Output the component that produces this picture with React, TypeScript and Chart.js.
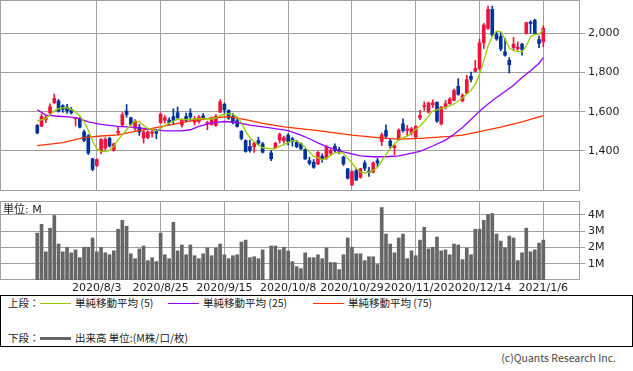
import React, { useEffect, useRef } from 'react';
import { Chart, registerables } from 'chart.js';

Chart.register(...registerables);

// ---------- data ----------
const dateLabels = ['2020/8/3', '2020/8/25', '2020/9/15', '2020/10/8', '2020/10/29', '2020/11/20', '2020/12/14', '2021/1/6'];
const dateIdx = [14, 29, 44, 59, 74, 89, 104, 119];

const opens = [
  1530, 1526, 1559, 1594, 1646, 1655, 1631, 1622, 1612, 1566,
  1567, 1497, 1477, 1359, 1325, 1402, 1414, 1464, 1403, 1492,
  1533, 1604, 1569, 1515, 1521, 1465, 1468, 1490, 1500, 1545,
  1556, 1557, 1575, 1595, 1532, 1576, 1593, 1547, 1550, 1580,
  1538, 1533, 1530, 1598, 1638, 1607, 1576, 1554, 1500, 1453,
  1422, 1421, 1453, 1436, null, 1390, 1415, 1455, 1452, 1480,
  1462, 1444, 1436, 1407, 1350, 1342, 1333, 1373, 1362, 1388,
  1424, 1407, 1368, 1308, 1226, 1299, 1265, 1338, 1297, 1291,
  1350, 1448, 1504, 1451, 1416, 1458, 1538, 1504, 1491, 1470,
  1569, 1627, 1598, 1636, 1648, 1538, 1627, 1641, 1658, 1730,
  1655, 1696, 1781, 1807, 1821, 1952, 2026, 2123, 1995, 1985,
  1906, 1863, 1928, 1921, 1945, 2000, 2058, 2068, 1969, 1957,
];
const highs = [
  1535, 1588, 1580, 1640, 1691, 1663, 1636, 1638, 1622, 1572,
  1570, 1506, 1483, 1363, 1360, 1463, 1468, 1470, 1440, 1520,
  1596, 1637, 1573, 1560, 1535, 1504, 1503, 1513, 1510, 1594,
  1581, 1569, 1615, 1624, 1564, 1593, 1615, 1576, 1581, 1590,
  1552, 1573, 1586, 1662, 1644, 1610, 1590, 1564, 1504, 1456,
  1455, 1444, 1470, 1444, null, 1402, 1444, 1491, 1475, 1488,
  1470, 1453, 1441, 1410, 1368, 1356, 1397, 1385, 1427, 1410,
  1436, 1419, 1373, 1311, 1299, 1308, 1311, 1350, 1316, 1345,
  1362, 1492, 1533, 1462, 1433, 1513, 1564, 1530, 1520, 1530,
  1607, 1650, 1650, 1661, 1651, 1627, 1658, 1672, 1716, 1769,
  1692, 1786, 1803, 1863, 1971, 2051, 2140, 2140, 2008, 2005,
  1975, 1877, 1980, 1957, 1949, 2058, 2065, 2073, 1986, 2039,
];
const lows = [
  1487, 1523, 1544, 1586, 1642, 1598, 1597, 1592, 1588, 1527,
  1517, 1447, 1381, 1299, 1320, 1385, 1406, 1419, 1398, 1482,
  1527, 1572, 1530, 1505, 1479, 1440, 1462, 1470, 1462, 1540,
  1542, 1533, 1535, 1566, 1521, 1547, 1556, 1532, 1542, 1560,
  1508, 1532, 1525, 1595, 1593, 1561, 1538, 1521, 1456, 1393,
  1394, 1392, 1430, 1389, null, 1350, 1410, 1440, 1440, 1430,
  1424, 1417, 1407, 1356, 1328, 1311, 1330, 1342, 1356, 1376,
  1393, 1385, 1325, 1256, 1222, 1248, 1260, 1299, 1270, 1287,
  1321, 1427, 1465, 1414, 1381, 1453, 1496, 1479, 1481, 1465,
  1559, 1607, 1593, 1621, 1545, 1532, 1615, 1638, 1655, 1684,
  1650, 1692, 1752, 1803, 1815, 1923, 2021, 1986, 1965, 1912,
  1884, 1798, 1915, 1915, 1889, 1997, 2000, 1997, 1928, 1932,
];
const closes = [
  1492, 1576, 1569, 1626, 1669, 1603, 1612, 1604, 1594, 1570,
  1521, 1454, 1389, 1306, 1356, 1458, 1459, 1425, 1436, 1500,
  1585, 1586, 1535, 1552, 1496, 1497, 1497, 1497, 1490, 1588,
  1569, 1545, 1555, 1569, 1556, 1556, 1573, 1564, 1573, 1565,
  1545, 1564, 1576, 1650, 1610, 1567, 1544, 1525, 1463, 1397,
  1402, 1439, 1439, 1393, null, 1360, 1439, 1484, 1468, 1446,
  1448, 1421, 1410, 1359, 1337, 1316, 1393, 1356, 1419, 1402,
  1402, 1393, 1333, 1260, 1294, 1251, 1308, 1311, 1290, 1338,
  1338, 1482, 1475, 1427, 1427, 1506, 1504, 1513, 1513, 1525,
  1581, 1632, 1644, 1646, 1552, 1624, 1641, 1665, 1709, 1689,
  1684, 1764, 1766, 1821, 1952, 2043, 2123, 1991, 1972, 1921,
  1889, 1840, 1945, 1931, 1918, 2055, 2051, 2000, 1949, 2026,
];

// volume in millions
const volumes = [
  2.88, 3.42, 1.73, 3.18, 3.96, 2.21, 1.73, 2.01, 1.67, 1.85,
  1.37, 2.01, 2.01, 2.58, 1.73, 2.0, 1.67, 1.55, 1.79, 3.12,
  3.66, 3.3, 1.61, 1.31, 1.91, 2.09, 1.19, 1.37, 1.13, 2.88,
  1.55, 1.31, 3.54, 1.79, 2.15, 1.55, 2.15, 1.49, 1.31, 1.61,
  1.97, 1.49, 1.97, 2.21, 1.55, 1.31, 1.49, 1.55, 2.33, 2.45,
  1.37, 1.43, 1.31, 1.85, null, 2.09, 2.09, 1.85, 2.01, 1.79,
  1.13, 0.82, 0.70, 1.67, 1.37, 1.37, 1.55, 1.31, 1.97, 1.07,
  1.07, 0.64, 1.55, 2.58, 2.01, 1.61, 1.61, 1.19, 1.43, 1.43,
  0.95, 4.45, 2.82, 2.21, 1.67, 2.58, 2.82, 1.31, 1.79, 1.49,
  2.45, 3.24, 1.91, 2.01, 2.64, 1.79, 1.85, 1.55, 2.21, 2.15,
  1.25, 1.97, 1.55, 3.12, 3.12, 3.66, 4.02, 4.08, 2.82, 2.39,
  1.97, 2.70, 2.58, 1.19, 1.67, 3.18, 1.73, 1.85, 2.27, 2.45,
];

const ma5X = [0, 2, 3, 4, 5, 6, 7, 8, 9, 10, 11, 12, 13, 14, 15, 16, 17, 18, 19, 20, 21, 22, 23, 24, 25, 26, 27, 28, 29, 30, 31, 33, 35, 37, 39, 41, 42, 43, 44, 45, 46, 47, 48, 49, 50, 51, 52, 53, 55, 56, 57, 58, 59, 60, 61, 62, 63, 64, 65, 66, 67, 68, 69, 70, 71, 72, 73, 74, 75, 76, 77, 78, 79, 80, 81, 82, 83, 84, 85, 86, 87, 88, 89, 90, 91, 92, 93, 94, 95, 96, 97, 98, 99, 100, 101, 102, 103, 104, 105, 106, 107, 108, 109, 110, 111, 112, 113, 114, 115, 116, 117, 118, 119];
const ma5Y = [1553, 1565, 1585, 1603, 1616, 1620, 1620, 1612, 1597, 1578, 1550, 1505, 1450, 1410, 1398, 1396, 1402, 1425, 1458, 1483, 1508, 1532, 1553, 1548, 1530, 1515, 1510, 1503, 1515, 1530, 1542, 1562, 1560, 1564, 1565, 1563, 1568, 1580, 1586, 1590, 1586, 1575, 1545, 1500, 1468, 1446, 1430, 1416, 1410, 1413, 1424, 1432, 1442, 1452, 1450, 1439, 1418, 1395, 1372, 1365, 1355, 1362, 1378, 1390, 1393, 1388, 1362, 1338, 1310, 1292, 1287, 1292, 1300, 1316, 1348, 1382, 1410, 1435, 1458, 1468, 1475, 1490, 1510, 1527, 1550, 1578, 1603, 1610, 1617, 1622, 1630, 1640, 1655, 1670, 1690, 1710, 1740, 1790, 1860, 1935, 1985, 2012, 2010, 1972, 1925, 1912, 1908, 1906, 1935, 1983, 1995, 1997, 2017];

const ma25X = [0, 2, 5, 8, 10, 12, 15, 19, 23, 27, 30, 34, 36, 38, 41, 44, 47, 50, 54, 59, 62, 64, 66, 68, 70, 72, 74, 76, 79, 82, 85, 87, 90, 93, 96, 98, 100, 102, 104, 106, 108, 110, 112, 114, 116, 118, 119];
const ma25Y = [1610, 1583, 1577, 1572, 1563, 1548, 1535, 1525, 1520, 1510, 1502, 1502, 1508, 1525, 1543, 1550, 1545, 1532, 1520, 1503, 1481, 1462, 1441, 1422, 1408, 1395, 1385, 1374, 1370, 1370, 1375, 1383, 1398, 1425, 1455, 1485, 1520, 1560, 1603, 1640, 1673, 1703, 1735, 1775, 1810, 1848, 1877];

const ma75X = [0, 6, 11, 15, 19, 23, 27, 31, 35, 41, 45, 49, 53, 58, 66, 74, 80, 85, 90, 97, 100, 104, 109, 114, 119];
const ma75Y = [1427, 1442, 1468, 1476, 1482, 1500, 1515, 1532, 1550, 1568, 1575, 1560, 1541, 1523, 1503, 1480, 1468, 1460, 1464, 1474, 1480, 1498, 1521, 1548, 1580];

const priceTicks = [1400, 1600, 1800, 2000];
const volTicks = [1, 2, 3, 4];
const maLabels = ['単純移動平均 (5)', '単純移動平均 (25)', '単純移動平均 (75)'];
const volLabel = '出来高 単位:(M株/口/枚)';
const unitLabel = '単位: M';
const rowLabels = ['上段：', '下段：'];
const copyright = '(c)Quants Research Inc.';

// ---------- styling / layout ----------
const X_MIN = -8.77;
const X_MAX = 127.63;
const GRID = '#a0a0a0';
const UP = '#f0143c';
const DOWN = '#003399';
const MA_COLORS = ['#99cc00', '#9900ff', '#ff3300'];
const VOL_COLOR = '#666666';
const AXIS_FONT = { family: "'DejaVu Sans', 'Noto Sans CJK JP', sans-serif", size: 11 };
const TEXT_COLOR = '#222222';

const framePlugin = {
  id: 'frame',
  beforeDatasetsDraw(chart: any) {
    const { ctx, chartArea: a } = chart;
    ctx.save();
    ctx.strokeStyle = GRID;
    ctx.lineWidth = 1;
    ctx.strokeRect(Math.round(a.left) + 0.5, Math.round(a.top) + 0.5, Math.round(a.right - a.left) - 1, Math.round(a.bottom - a.top) - 1);
    ctx.restore();
  },
};

const unitPlugin = {
  id: 'unitLabel',
  afterDraw(chart: any) {
    const { ctx, chartArea: a } = chart;
    ctx.save();
    ctx.font = "11px 'DejaVu Sans', 'Noto Sans CJK JP', sans-serif";
    ctx.fillStyle = TEXT_COLOR;
    ctx.textBaseline = 'middle';
    ctx.textAlign = 'left';
    ctx.fillText(unitLabel, a.left + 3, a.top + 9);
    ctx.restore();
  },
};

function xScale(showLabels: boolean, height: number) {
  return {
    type: 'linear',
    min: X_MIN,
    max: X_MAX,
    offset: false,
    afterBuildTicks: (s: any) => {
      s.ticks = dateIdx.map((v) => ({ value: v }));
    },
    ticks: {
      display: showLabels,
      autoSkip: false,
      maxRotation: 0,
      minRotation: 0,
      padding: 2,
      font: AXIS_FONT,
      color: TEXT_COLOR,
      callback: (_v: any, i: number) => dateLabels[i],
    },
    grid: { color: GRID, drawTicks: false, lineWidth: 1, offset: false },
    border: { display: false },
    afterFit: (s: any) => {
      s.height = height;
      s.paddingLeft = 0;
      s.paddingRight = 0;
    },
  };
}

function yScale(min: number, max: number, ticks: number[], fmt: (v: number) => string) {
  return {
    position: 'right',
    min,
    max,
    afterBuildTicks: (s: any) => {
      s.ticks = ticks.map((v) => ({ value: v }));
    },
    ticks: { font: AXIS_FONT, color: TEXT_COLOR, padding: 3, callback: (v: any) => fmt(Number(v)) },
    grid: { color: GRID, tickLength: 5, lineWidth: 1 },
    border: { display: false },
    afterFit: (s: any) => {
      s.width = 53;
      s.paddingTop = 0;
      s.paddingBottom = 0;
    },
  };
}

export default function App() {
  const priceRef = useRef<HTMLCanvasElement | null>(null);
  const volRef = useRef<HTMLCanvasElement | null>(null);

  useEffect(() => {
    const idx = opens.map((_, i) => i).filter((i) => opens[i] != null);
    const colors = idx.map((i) => ((closes[i] as number) >= (opens[i] as number) ? UP : DOWN));
    const line = (xs: number[], ys: number[], color: string) => ({
      type: 'line',
      data: xs.map((x, k) => ({ x, y: ys[k] })),
      borderColor: color,
      backgroundColor: color,
      borderWidth: 1.3,
      pointRadius: 0,
      tension: 0,
      fill: false,
      order: 0,
    });

    const priceChart = new Chart(priceRef.current as HTMLCanvasElement, {
      type: 'bar',
      data: {
        datasets: [
          line(ma5X, ma5Y, MA_COLORS[0]),
          line(ma25X, ma25Y, MA_COLORS[1]),
          line(ma75X, ma75Y, MA_COLORS[2]),
          {
            type: 'bar',
            data: idx.map((i) => ({ x: i, y: [opens[i], closes[i]] })),
            backgroundColor: colors,
            barThickness: 3,
            grouped: false,
            order: 1,
          },
          {
            type: 'bar',
            data: idx.map((i) => ({ x: i, y: [lows[i], highs[i]] })),
            backgroundColor: colors,
            barThickness: 1,
            grouped: false,
            order: 2,
          },
        ] as any,
      },
      options: {
        responsive: false,
        animation: false,
        events: [],
        layout: { padding: 0 },
        plugins: { legend: { display: false }, tooltip: { enabled: false } },
        scales: {
          x: xScale(false, 0) as any,
          y: yScale(1195, 2171, priceTicks, (v) => v.toLocaleString('en-US')) as any,
        },
      },
      plugins: [framePlugin],
    });

    const volChart = new Chart(volRef.current as HTMLCanvasElement, {
      type: 'bar',
      data: {
        datasets: [
          {
            data: volumes.map((v, i) => ({ x: i, y: v })) as any,
            backgroundColor: VOL_COLOR,
            barThickness: 3,
            grouped: false,
          },
        ],
      },
      options: {
        responsive: false,
        animation: false,
        events: [],
        layout: { padding: 0 },
        plugins: { legend: { display: false }, tooltip: { enabled: false } },
        scales: {
          x: xScale(true, 15) as any,
          y: yScale(0, 4.85, volTicks, (v) => `${v}M`) as any,
        },
      },
      plugins: [framePlugin, unitPlugin],
    });

    return () => {
      priceChart.destroy();
      volChart.destroy();
    };
  }, []);

  const cjk = "'Noto Sans CJK JP', 'DejaVu Sans', sans-serif";
  const txt = (left: number, top: number, s: string) => (
    <div style={{ position: 'absolute', left, top, fontSize: 10.5, lineHeight: '14px', whiteSpace: 'nowrap', color: TEXT_COLOR }}>{s}</div>
  );
  const swatch = (left: number, top: number, color: string, h: number) => (
    <div style={{ position: 'absolute', left, top, width: 31, height: h, background: color }} />
  );

  return (
    <div style={{ position: 'absolute', left: 0, top: 0, width: 633, height: 371, background: '#fff', overflow: 'hidden', fontFamily: cjk }}>
      <canvas ref={priceRef} width={633} height={191} style={{ position: 'absolute', left: 0, top: 0 }} />
      <canvas ref={volRef} width={633} height={94} style={{ position: 'absolute', left: 0, top: 201 }} />
      <div style={{ position: 'absolute', left: 0, top: 295, width: 631, height: 50, border: '1px solid #000', background: 'transparent' }}>
        {txt(7, 0, rowLabels[0])}
        {swatch(39, 7, MA_COLORS[0], 1)}
        {txt(74, 0, maLabels[0])}
        {swatch(167, 7, MA_COLORS[1], 1)}
        {txt(202, 0, maLabels[1])}
        {swatch(312, 7, MA_COLORS[2], 1)}
        {txt(347, 0, maLabels[2])}
        {txt(7, 35, rowLabels[1])}
        {swatch(39, 41, VOL_COLOR, 3)}
        {txt(74, 35, volLabel)}
      </div>
      <div style={{ position: 'absolute', right: 17, top: 351, fontSize: 10.5, lineHeight: '14px', color: '#444', whiteSpace: 'nowrap' }}>{copyright}</div>
    </div>
  );
}
